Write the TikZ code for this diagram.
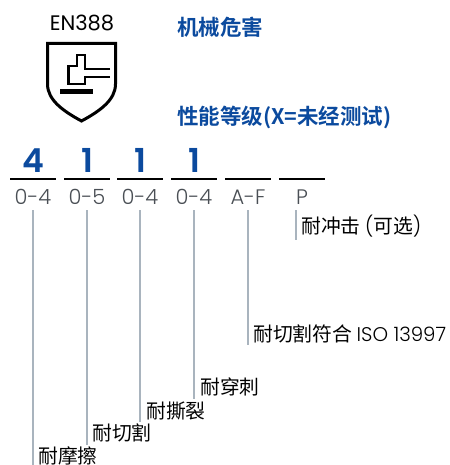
\documentclass[tikz,border=0pt]{standalone}
\usepackage{fontspec}
\setmainfont{Poppins}[UprightFont=* Light,BoldFont=* SemiBold]
\newfontfamily\markfont{Poppins}
\newfontfamily\cjk{Noto Sans CJK SC}[BoldFont=* Bold]
\usepackage{xcolor}
\usepackage{tikz}

\definecolor{gradeblue}{HTML}{0B4A9E}
\definecolor{scalegray}{HTML}{4A4F55}
\definecolor{leadgray}{HTML}{A9B4BE}

\tikzset{
	heading/.style={anchor=base west, inner sep=0pt, text=gradeblue, font=\cjk\bfseries\fontsize{21.5}{21.5}\selectfont},
	grade/.style={anchor=base, inner sep=0pt, text=gradeblue, font=\bfseries\fontsize{33}{33}\selectfont},
	scalerange/.style={anchor=base, inner sep=0pt, text=scalegray, font=\fontsize{21}{21}\selectfont},
	testname/.style={anchor=base west, inner sep=0pt, text=black, font=\cjk\fontsize{19.8}{20}\selectfont},
	bar/.style={line width=2pt, black},
	lead/.style={line width=2pt, leadgray, shorten <=6pt}
}

\begin{document}
\begin{tikzpicture}[x=1pt, y=-1pt]
		\useasboundingbox (0,0) rectangle (449,465);
		
		\node[anchor=base, inner sep=0pt, font=\markfont\fontsize{21}{21}\selectfont] (mark) at (82,31) {EN388};
		\node[heading] (hazard) at (177,36) {机械危害};
		\node[heading] (levels) at (177,125) {性能等级(X=未经测试)};
		
		% shield
		\draw[line width=3pt, miter limit=10] (47.5,43.5) -- (115.5,43.5) -- (115.5,84) .. controls (115.5,100) and (100,111) .. (81.5,121) .. controls (63,111) and (47.5,100) .. (47.5,84) -- cycle;
		\draw[line width=2.5pt] (110,69) -- (85,69) -- (85,55) -- (77,55) -- (77,66) -- (68.5,66) -- (68.5,84) -- (85,84) -- (85,77) -- (110,77);
		\fill (60,89) rectangle (93,94);
		
		% grades
		\node[grade] (g1) at (33,172) {4};
		\node[grade] (g2) at (87,172) {1};
		\node[grade] (g3) at (140,172) {1};
		\node[grade] (g4) at (194,172) {1};
		
		\draw[bar] (10,178.5) -- (56,178.5);
		\draw[bar] (64,178.5) -- (110,178.5);
		\draw[bar] (117,178.5) -- (163,178.5);
		\draw[bar] (171,178.5) -- (217,178.5);
		\draw[bar] (225,178.5) -- (271,178.5);
		\draw[bar] (279,178.5) -- (325,178.5);
		
		\node[scalerange] (r1) at (33,204) {0-4};
		\node[scalerange] (r2) at (87,204) {0-5};
		\node[scalerange] (r3) at (140,204) {0-4};
		\node[scalerange] (r4) at (194,204) {0-4};
		\node[scalerange] (r5) at (248,204) {A-F};
		\node[scalerange] (r6) at (302,204) {P};
		
		\node[testname] (abrasion) at (38,463) {耐摩擦};
		\node[testname] (cut) at (92,440) {耐切割};
		\node[testname] (tear) at (146,418) {耐撕裂};
		\node[testname] (puncture) at (200,394) {耐穿刺};
		\node[testname] (iso) at (253,341) {耐切割符合 {\rmfamily ISO 13997}};
		\node[testname] (impact) at (301,233) {耐冲击 {\rmfamily (}可选{\rmfamily )}};
		
		\coordinate (e1) at (33,465);
		\coordinate (e2) at (87,445);
		\coordinate (e3) at (140,422);
		\coordinate (e4) at (194,399);
		\coordinate (e5) at (248,345);
		\coordinate (e6) at (296,240);
		
		\draw[lead] (r1.south -| e1) -- (e1);
		\draw[lead] (r2.south -| e2) -- (e2);
		\draw[lead] (r3.south -| e3) -- (e3);
		\draw[lead] (r4.south -| e4) -- (e4);
		\draw[lead] (r5.south -| e5) -- (e5);
		\draw[lead] (r6.south -| e6) -- (e6);
\end{tikzpicture}
\end{document}
